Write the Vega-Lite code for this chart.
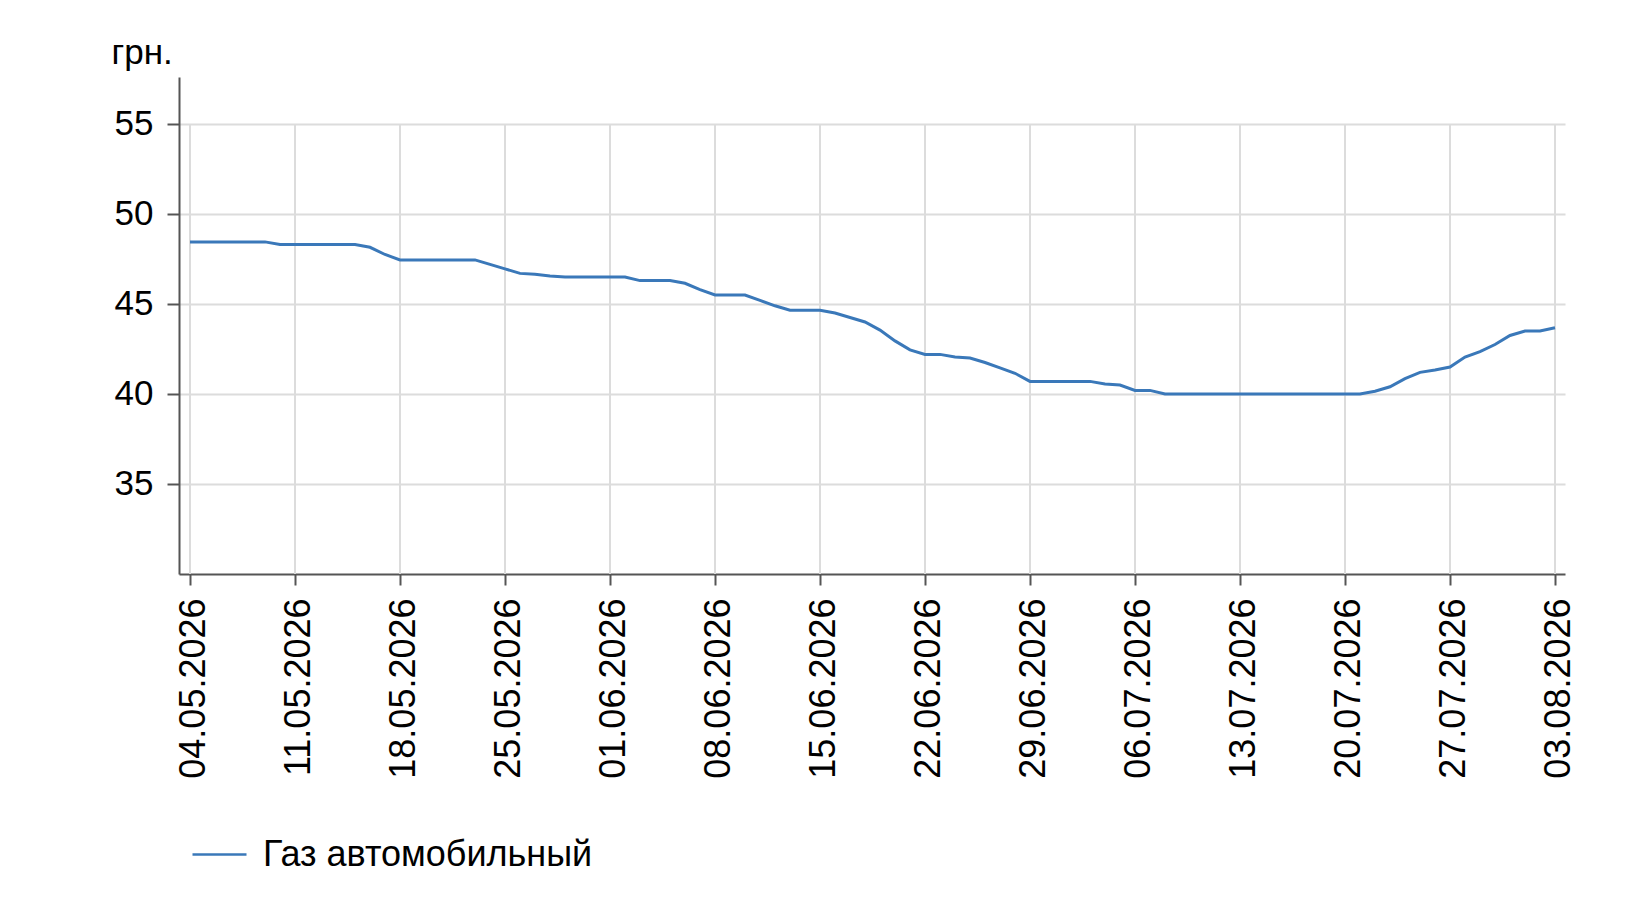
{
  "$schema": "https://vega.github.io/schema/vega-lite/v6.json",
  "autosize": {"type": "none"},
  "width": 1386,
  "height": 497,
  "padding": {"left": 179, "top": 77, "right": 87, "bottom": 342},
  "config": {
    "font": "Liberation Sans",
    "view": {"stroke": null},
    "background": "#ffffff"
  },
  "datasets": {
    "weeks": [
      {"date": "2026-05-04"}, {"date": "2026-05-11"}, {"date": "2026-05-18"}, {"date": "2026-05-25"},
      {"date": "2026-06-01"}, {"date": "2026-06-08"}, {"date": "2026-06-15"}, {"date": "2026-06-22"},
      {"date": "2026-06-29"}, {"date": "2026-07-06"}, {"date": "2026-07-13"}, {"date": "2026-07-20"},
      {"date": "2026-07-27"}, {"date": "2026-08-03"}
    ],
    "price": [
      {"date": "2026-05-04", "value": 48.45},
      {"date": "2026-05-05", "value": 48.45},
      {"date": "2026-05-06", "value": 48.45},
      {"date": "2026-05-07", "value": 48.45},
      {"date": "2026-05-08", "value": 48.45},
      {"date": "2026-05-09", "value": 48.45},
      {"date": "2026-05-10", "value": 48.3},
      {"date": "2026-05-11", "value": 48.3},
      {"date": "2026-05-12", "value": 48.3},
      {"date": "2026-05-13", "value": 48.3},
      {"date": "2026-05-14", "value": 48.3},
      {"date": "2026-05-15", "value": 48.3},
      {"date": "2026-05-16", "value": 48.15},
      {"date": "2026-05-17", "value": 47.75},
      {"date": "2026-05-18", "value": 47.45},
      {"date": "2026-05-19", "value": 47.45},
      {"date": "2026-05-20", "value": 47.45},
      {"date": "2026-05-21", "value": 47.45},
      {"date": "2026-05-22", "value": 47.45},
      {"date": "2026-05-23", "value": 47.45},
      {"date": "2026-05-24", "value": 47.2},
      {"date": "2026-05-25", "value": 46.95},
      {"date": "2026-05-26", "value": 46.7},
      {"date": "2026-05-27", "value": 46.65},
      {"date": "2026-05-28", "value": 46.55},
      {"date": "2026-05-29", "value": 46.5},
      {"date": "2026-05-30", "value": 46.5},
      {"date": "2026-05-31", "value": 46.5},
      {"date": "2026-06-01", "value": 46.5},
      {"date": "2026-06-02", "value": 46.5},
      {"date": "2026-06-03", "value": 46.3},
      {"date": "2026-06-04", "value": 46.3},
      {"date": "2026-06-05", "value": 46.3},
      {"date": "2026-06-06", "value": 46.15},
      {"date": "2026-06-07", "value": 45.8},
      {"date": "2026-06-08", "value": 45.5},
      {"date": "2026-06-09", "value": 45.5},
      {"date": "2026-06-10", "value": 45.5},
      {"date": "2026-06-11", "value": 45.2},
      {"date": "2026-06-12", "value": 44.9},
      {"date": "2026-06-13", "value": 44.65},
      {"date": "2026-06-14", "value": 44.65},
      {"date": "2026-06-15", "value": 44.65},
      {"date": "2026-06-16", "value": 44.5},
      {"date": "2026-06-17", "value": 44.25},
      {"date": "2026-06-18", "value": 44.0},
      {"date": "2026-06-19", "value": 43.55},
      {"date": "2026-06-20", "value": 42.95},
      {"date": "2026-06-21", "value": 42.45},
      {"date": "2026-06-22", "value": 42.2},
      {"date": "2026-06-23", "value": 42.2},
      {"date": "2026-06-24", "value": 42.05},
      {"date": "2026-06-25", "value": 42.0},
      {"date": "2026-06-26", "value": 41.75},
      {"date": "2026-06-27", "value": 41.45},
      {"date": "2026-06-28", "value": 41.15},
      {"date": "2026-06-29", "value": 40.7},
      {"date": "2026-06-30", "value": 40.7},
      {"date": "2026-07-01", "value": 40.7},
      {"date": "2026-07-02", "value": 40.7},
      {"date": "2026-07-03", "value": 40.7},
      {"date": "2026-07-04", "value": 40.55},
      {"date": "2026-07-05", "value": 40.5},
      {"date": "2026-07-06", "value": 40.2},
      {"date": "2026-07-07", "value": 40.2},
      {"date": "2026-07-08", "value": 40.0},
      {"date": "2026-07-09", "value": 40.0},
      {"date": "2026-07-10", "value": 40.0},
      {"date": "2026-07-11", "value": 40.0},
      {"date": "2026-07-12", "value": 40.0},
      {"date": "2026-07-13", "value": 40.0},
      {"date": "2026-07-14", "value": 40.0},
      {"date": "2026-07-15", "value": 40.0},
      {"date": "2026-07-16", "value": 40.0},
      {"date": "2026-07-17", "value": 40.0},
      {"date": "2026-07-18", "value": 40.0},
      {"date": "2026-07-19", "value": 40.0},
      {"date": "2026-07-20", "value": 40.0},
      {"date": "2026-07-21", "value": 40.0},
      {"date": "2026-07-22", "value": 40.15},
      {"date": "2026-07-23", "value": 40.4},
      {"date": "2026-07-24", "value": 40.85},
      {"date": "2026-07-25", "value": 41.2},
      {"date": "2026-07-26", "value": 41.33},
      {"date": "2026-07-27", "value": 41.5},
      {"date": "2026-07-28", "value": 42.05},
      {"date": "2026-07-29", "value": 42.35},
      {"date": "2026-07-30", "value": 42.75},
      {"date": "2026-07-31", "value": 43.25},
      {"date": "2026-08-01", "value": 43.5},
      {"date": "2026-08-02", "value": 43.5},
      {"date": "2026-08-03", "value": 43.68}
    ]
  },
  "encoding": {
    "x": {
      "field": "date",
      "type": "temporal",
      "scale": {
        "type": "utc",
        "domain": [
          {"year": 2026, "month": 5, "date": 3, "hours": 6, "minutes": 24, "utc": true},
          {"year": 2026, "month": 8, "date": 3, "hours": 16, "utc": true}
        ],
        "nice": false
      },
      "axis": {
        "title": null,
        "values": [
          {"year": 2026, "month": 5, "date": 4, "utc": true},
          {"year": 2026, "month": 5, "date": 11, "utc": true},
          {"year": 2026, "month": 5, "date": 18, "utc": true},
          {"year": 2026, "month": 5, "date": 25, "utc": true},
          {"year": 2026, "month": 6, "date": 1, "utc": true},
          {"year": 2026, "month": 6, "date": 8, "utc": true},
          {"year": 2026, "month": 6, "date": 15, "utc": true},
          {"year": 2026, "month": 6, "date": 22, "utc": true},
          {"year": 2026, "month": 6, "date": 29, "utc": true},
          {"year": 2026, "month": 7, "date": 6, "utc": true},
          {"year": 2026, "month": 7, "date": 13, "utc": true},
          {"year": 2026, "month": 7, "date": 20, "utc": true},
          {"year": 2026, "month": 7, "date": 27, "utc": true},
          {"year": 2026, "month": 8, "date": 3, "utc": true}
        ],
        "format": "%d.%m.%Y",
        "labelAngle": -90,
        "labelFontSize": 36,
        "labelColor": "#000000",
        "labelPadding": 13,
        "labelOffset": 3,
        "labelOverlap": false,
        "labelFlush": false,
        "labelLimit": 0,
        "grid": false,
        "domainColor": "#555555",
        "domainWidth": 2,
        "tickColor": "#555555",
        "tickWidth": 2,
        "tickSize": 11
      }
    }
  },
  "layer": [
    {
      "data": {"name": "weeks"},
      "mark": {"type": "rule", "color": "#dcdcdc", "strokeWidth": 2},
      "encoding": {
        "y": {"datum": 30, "type": "quantitative"},
        "y2": {"datum": 55}
      }
    },
    {
      "data": {"name": "price"},
      "mark": {"type": "line", "strokeWidth": 3},
      "encoding": {
        "y": {
          "field": "value",
          "type": "quantitative",
          "scale": {"domain": [30, 57.61], "nice": false, "zero": false},
          "axis": {
            "title": "грн.",
            "titleAngle": 0,
            "titleAlign": "left",
            "titleBaseline": "alphabetic",
            "titleX": -68,
            "titleY": -14,
            "titleFontSize": 35,
            "titleFontWeight": "normal",
            "titleColor": "#000000",
            "values": [35, 40, 45, 50, 55],
            "grid": true,
            "gridColor": "#dcdcdc",
            "gridWidth": 2,
            "domainColor": "#555555",
            "domainWidth": 2,
            "tickColor": "#555555",
            "tickWidth": 2,
            "tickSize": 12,
            "labelFontSize": 35,
            "labelColor": "#000000",
            "labelPadding": 14
          }
        },
        "color": {
          "datum": "Газ автомобильный",
          "type": "nominal",
          "scale": {"range": ["#3a78b9"]},
          "legend": {
            "title": null,
            "orient": "none",
            "legendX": 12,
            "legendY": 749,
            "padding": 0,
            "symbolType": "stroke",
            "symbolSize": 2916,
            "symbolStrokeWidth": 2.5,
            "labelFontSize": 36,
            "labelColor": "#000000",
            "labelOffset": 15,
            "labelLimit": 0
          }
        }
      }
    }
  ]
}
